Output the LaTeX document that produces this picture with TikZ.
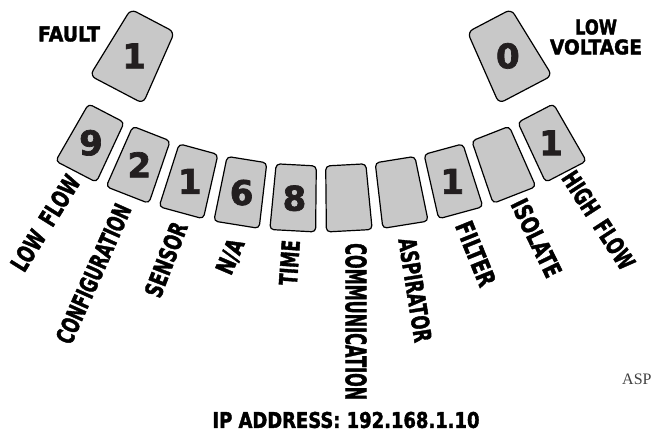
\documentclass[tikz,border=0pt]{standalone}
\usepackage{fontspec}
\usepackage{graphicx}
\setmainfont{DejaVu Sans}
\newfontfamily\heavyfont{DejaVu Sans Bold}[FakeBold=2]
\newfontfamily\aspfont{Liberation Serif}
\definecolor{tilegray}{RGB}{200,200,200}
\definecolor{inkdark}{RGB}{35,31,32}

\begin{document}
\begin{tikzpicture}[x=1pt,y=1pt,
  tile/.style={draw=black,fill=tilegray,line width=1.2pt,rounded corners=4pt,line join=round},
  bigtile/.style={tile,rounded corners=6pt},
  digit/.style={inner sep=0pt,text=inkdark,font=\heavyfont\fontsize{34}{34}\selectfont},
  lbl/.style={inner sep=0pt,text=black,font=\heavyfont\fontsize{15}{20}\selectfont}]
\useasboundingbox (0,0) rectangle (654,-438);
\begin{scope}[shift={(321,300)}]
\draw[bigtile] (-121.6:363) -- (-113.8:363) -- (-113.8:441) -- (-121.6:441) -- cycle;
\draw[bigtile] (-66.2:363) -- (-58.4:363) -- (-58.4:441) -- (-66.2:441) -- cycle;
\draw[tile] (-119.92:466) -- (-114.98:466) -- (-114.98:532) -- (-119.92:532) -- cycle;
\draw[tile] (-113.82:466) -- (-108.88:466) -- (-108.88:532) -- (-113.82:532) -- cycle;
\draw[tile] (-107.72:466) -- (-102.78:466) -- (-102.78:532) -- (-107.72:532) -- cycle;
\draw[tile] (-101.62:466) -- (-96.68:466) -- (-96.68:532) -- (-101.62:532) -- cycle;
\draw[tile] (-95.52:466) -- (-90.58:466) -- (-90.58:532) -- (-95.52:532) -- cycle;
\draw[tile] (-89.42:466) -- (-84.48:466) -- (-84.48:532) -- (-89.42:532) -- cycle;
\draw[tile] (-83.32:466) -- (-78.38:466) -- (-78.38:532) -- (-83.32:532) -- cycle;
\draw[tile] (-77.22:466) -- (-72.28:466) -- (-72.28:532) -- (-77.22:532) -- cycle;
\draw[tile] (-71.12:466) -- (-66.18:466) -- (-66.18:532) -- (-71.12:532) -- cycle;
\draw[tile] (-65.02:466) -- (-60.08:466) -- (-60.08:532) -- (-65.02:532) -- cycle;
\node[digit] (faultnum) at (-117.7:402) {1};
\node[digit] (lowvnum) at (-62.3:402) {0};
\node[digit] (lowflownum) at (-117.45:499) {9};
\node[digit] (confignum) at (-111.35:499) {2};
\node[digit] (sensornum) at (-105.25:499) {1};
\node[digit] (nanum) at (-99.15:499) {6};
\node[digit] (timenum) at (-93.05:499) {8};
\node[digit] (filternum) at (-74.75:499) {1};
\node[digit] (highflownum) at (-62.55:499) {1};
\end{scope}
\node[lbl] (fault) at (69,-34) {\resizebox{62pt}{15pt}{FAULT}};
\node[lbl,align=center] (lowv) at (596,-37) {\resizebox{42pt}{15pt}{LOW}\\\resizebox{92pt}{15pt}{VOLTAGE}};
\node[lbl,rotate=58,anchor=east] (lowflow) at (74,-177) {\resizebox{108pt}{18pt}{LOW\hspace{0.6em}FLOW}};
\node[lbl,rotate=66,anchor=east] (config) at (124,-205) {\resizebox{150pt}{18pt}{CONFIGURATION}};
\node[lbl,rotate=69,anchor=east] (sensor) at (180,-223) {\resizebox{78pt}{18pt}{SENSOR}};
\node[lbl,rotate=67,anchor=east] (na) at (238,-240) {\resizebox*{36pt}{20pt}{N/A}};
\node[lbl,rotate=86,anchor=east] (time) at (291,-240) {\resizebox{45pt}{18pt}{TIME}};
\node[lbl,rotate=-90,anchor=west] (comm) at (356,-243) {\resizebox{157pt}{21pt}{COMMUNICATION}};
\node[lbl,rotate=-81,anchor=west] (aspirator) at (407,-238) {\resizebox{105pt}{18pt}{ASPIRATOR}};
\node[lbl,rotate=-68,anchor=west] (filter) at (463,-222) {\resizebox{68pt}{18pt}{FILTER}};
\node[lbl,rotate=-64,anchor=west] (isolate) at (518,-200) {\resizebox{84pt}{18pt}{ISOLATE}};
\node[lbl,rotate=-57,anchor=west] (highflow) at (568,-173) {\resizebox{112pt}{18pt}{HIGH\hspace{0.6em}FLOW}};
\node[lbl] (ip) at (346,-420) {\resizebox{267pt}{16pt}{IP ADDRESS: 192.168.1.10}};
\node[inner sep=0pt,anchor=base west,text=black!75,font=\aspfont\fontsize{16}{16}\selectfont] (aspnote) at (622,-385) {ASP};
\end{tikzpicture}
\end{document}
